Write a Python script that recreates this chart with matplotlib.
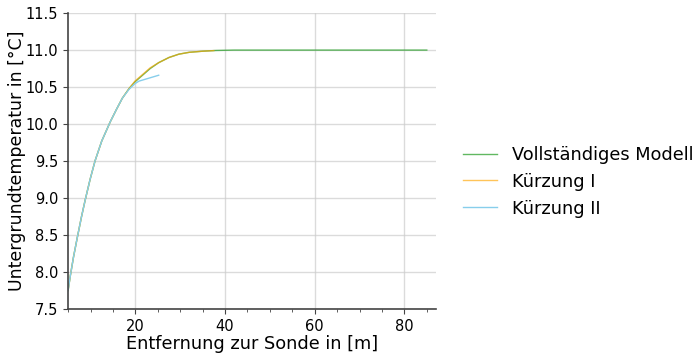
import matplotlib.pyplot as plt
from matplotlib.ticker import MultipleLocator

# Entfernung [m] und Temperatur [°C]
x_voll = [5, 5.5, 6.2, 7.0, 8.0, 8.8, 9.9, 11.0, 12.5, 14.4, 15.8, 17.1, 18.6, 19.9,
          21.6, 23.3, 25.2, 27.5, 29.7, 32.0, 35.0, 38.0, 42.0, 50.0, 60.0, 70.0, 85.0]
y_voll = [7.75, 7.95, 8.2, 8.45, 8.75, 8.97, 9.25, 9.5, 9.77, 10.03, 10.2, 10.35, 10.48, 10.57,
          10.66, 10.75, 10.83, 10.90, 10.945, 10.97, 10.985, 10.995, 11.0, 11.0, 11.0, 11.0, 11.0]

x_k1 = [5, 5.5, 6.2, 7.0, 8.0, 8.8, 9.9, 11.0, 12.5, 14.4, 15.8, 17.1, 18.6, 19.9,
        21.6, 23.3, 25.2, 27.5, 29.7, 32.0, 35.0, 37.5]
y_k1 = [7.75, 7.95, 8.2, 8.45, 8.75, 8.97, 9.25, 9.5, 9.77, 10.03, 10.2, 10.35, 10.48, 10.58,
        10.67, 10.76, 10.83, 10.90, 10.945, 10.97, 10.985, 10.993]

x_k2 = [5, 5.5, 6.2, 7.0, 8.0, 8.8, 9.9, 11.0, 12.5, 14.4, 15.8, 17.1, 18.6, 19.9,
        20.8, 25.2]
y_k2 = [7.75, 7.95, 8.2, 8.45, 8.75, 8.97, 9.25, 9.5, 9.77, 10.03, 10.2, 10.35, 10.47, 10.545,
        10.58, 10.66]

fig = plt.figure(figsize=(6.95, 3.55), dpi=100)
ax = fig.add_axes([0.098, 0.13, 0.529, 0.833])

ax.plot(x_voll, y_voll, color='#2ca02c', alpha=0.75, lw=1, label='Vollständiges Modell')
ax.plot(x_k1, y_k1, color='orange', alpha=0.65, lw=1, label='Kürzung I')
ax.plot(x_k2, y_k2, color='skyblue', lw=1, label='Kürzung II')

ax.set_xlim(5, 87)
ax.set_ylim(7.5, 11.5)
ax.xaxis.set_major_locator(MultipleLocator(20))
ax.xaxis.set_minor_locator(MultipleLocator(5))
ax.yaxis.set_major_locator(MultipleLocator(0.5))
ax.grid(True, color='#cccccc', lw=1, alpha=0.7)
ax.set_axisbelow(True)

for s in ['top', 'right']:
    ax.spines[s].set_visible(False)
for s in ['left', 'bottom']:
    ax.spines[s].set_color('#444444')
    ax.spines[s].set_linewidth(1.2)
ax.tick_params(labelsize=10.5, colors='#444444', labelcolor='black')
ax.tick_params(which='minor', colors='#444444')

ax.set_xlabel('Entfernung zur Sonde in [m]', fontsize=12.8, labelpad=1)
ax.set_ylabel('Untergrundtemperatur in [°C]', fontsize=12.5, labelpad=0)

ax.legend(loc='center left', bbox_to_anchor=(1.03, 0.43), frameon=False, fontsize=12.8,
          handlelength=1.95, labelspacing=0.5)

fig.savefig('out.png', dpi=100)
